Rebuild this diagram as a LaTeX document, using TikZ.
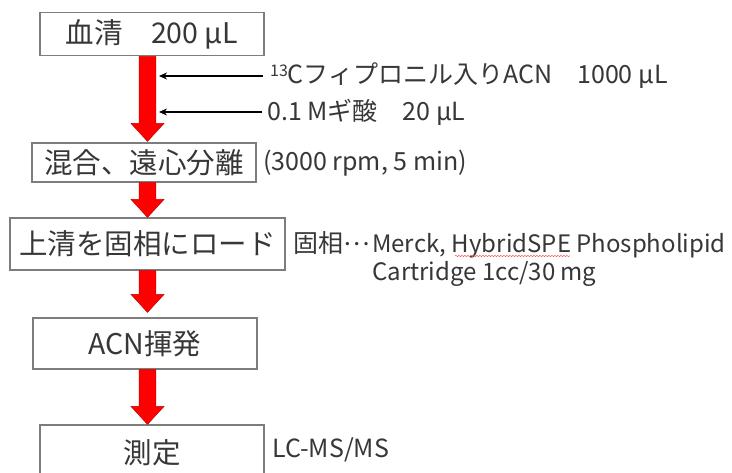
\documentclass[tikz,border=0pt]{standalone}
\usepackage{fontspec}
\setmainfont{Noto Sans CJK JP}
\usetikzlibrary{arrows.meta,calc,decorations.pathmorphing}
\definecolor{txt}{RGB}{55,55,55}
\definecolor{boxc}{RGB}{125,125,125}
\definecolor{arrred}{RGB}{255,0,0}
\definecolor{arredge}{RGB}{200,0,0}
\begin{document}
\begin{tikzpicture}[x=1pt,y=-1pt,
  stepbox/.style={draw=boxc, line width=1.2pt, fill=white, text=txt, inner sep=0pt,
    minimum width=224pt, font=\fontsize{28.5}{31}\selectfont},
  side/.style={text=txt, inner sep=0pt, font=\fontsize{25}{28}\selectfont},
  sidesmall/.style={side, font=\fontsize{24}{27}\selectfont},
  feedline/.style={draw=black, line width=1.3pt, -{Stealth[length=8pt,width=7pt]}},
  redarrow/.style={fill=arrred, draw=arredge, line width=0.5pt},
  spell/.style={draw=red!70, line width=0.5pt, decorate,
    decoration={snake, amplitude=0.6pt, segment length=3pt}}]
\useasboundingbox[fill=white] (0,0) rectangle (732,473);

% process boxes
\node[stepbox, minimum height=43pt] (b1) at (152,34.3) {血清　200 μL};
\node[stepbox, minimum height=39pt] (b2) at (144,162.5) {混合、遠心分離};
\node[stepbox, minimum width=275pt, minimum height=52pt] (b3) at (147.5,244) {上清を固相にロード};
\node[stepbox, minimum height=51pt] (b4) at (145,343.5) {ACN揮発};
\node[stepbox, minimum height=55pt] (b5) at (152,452.5) {測定};

% red block arrows
\coordinate (ax) at (147.5,0);
\foreach \a/\b/\g in {b1/b2/1pt, b2/b3/0pt, b3/b4/5pt, b4/b5/0pt}{
  \path[redarrow] let \p1=(ax |- \a.south), \p2=(ax |- \b.north) in
    (\x1-8.3pt,\y1) -- (\x1+8.3pt,\y1) -- (\x1+8.3pt,\y2+\g+18pt)
    -- (\x1+16.5pt,\y2+\g+18pt) -- (\x1,\y2+\g) -- (\x1-16.5pt,\y2+\g+18pt)
    -- (\x1-8.3pt,\y2+\g+18pt) -- cycle;
}

% reagent feed lines
\coordinate (f1) at (263,76);
\coordinate (t1) at (159,76);
\coordinate (f2) at (262,112);
\coordinate (t2) at (159,112);
\draw[feedline] (f1) -- (t1);
\draw[feedline] (f2) -- (t2);

% side labels
\node[side, anchor=west] (r1) at (270,76) {\raisebox{7pt}{\fontsize{16}{16}\selectfont 13}Cフィプロニル入りACN　1000 μL};
\node[side, anchor=west] (r2) at (267,112) {0.1 Mギ酸　20 μL};
\node[side, anchor=west] (c2) at (263,163) {(3000 rpm, 5 min)};
\node[side, anchor=base west] (s0) at (293,253) {固相\raisebox{7pt}{…}};
\node[sidesmall, anchor=base west] (s1) at (372,253) {Merck, HybridSPE Phospholipid};
\node[sidesmall, anchor=base west] (s2) at (372,281) {Cartridge 1cc/30 mg};
\node[side, anchor=west] (ms) at (272,450) {LC-MS/MS};

% spell-check underline
\coordinate (u1) at (455,256);
\coordinate (u2) at (570,256);
\draw[spell] (u1) -- (u2);
\end{tikzpicture}
\end{document}
